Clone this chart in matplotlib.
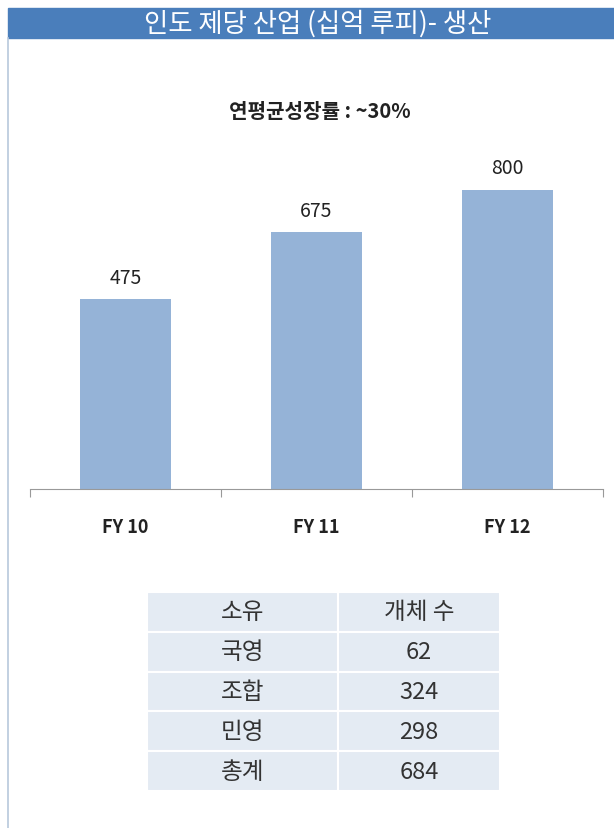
"""인도 제당 산업 (십억 루피) - 생산: 막대 + 소유 형태 표."""

import matplotlib

matplotlib.use("Agg")
import matplotlib.pyplot as plt  # noqa: E402
from matplotlib.patches import Rectangle  # noqa: E402

W, H = 614, 829
plt.rcParams["font.family"] = ["Noto Sans CJK KR", "DejaVu Sans"]

YEARS = ["FY 10", "FY 11", "FY 12"]
PRODUCTION = [475, 675, 800]

TABLE_HEADER = ["소유", "개체 수"]
OWNERSHIP = ["국영", "조합", "민영", "총계"]
UNITS = [62, 324, 298, 684]

BAR_COLOR = "#95b3d7"
BANNER_COLOR = "#4a7ebb"
CELL_COLOR = "#e4ebf3"
TEXT_DARK = "#222222"


def px(x0, y0, x1, y1):
    """пиксели (слева-сверху) -> доли фигуры [left, bottom, width, height]."""
    return [x0 / W, 1 - y1 / H, (x1 - x0) / W, (y1 - y0) / H]


fig = plt.figure(figsize=(W / 100, H / 100), dpi=100)
fig.patch.set_facecolor("white")

# banner
fig.patches.append(Rectangle((8 / W, 1 - 39 / H), 1, 30 / H,
                             transform=fig.transFigure, color=BANNER_COLOR))
fig.text(318 / W, 1 - 24 / H, "인도 제당 산업 (십억 루피)- 생산", color="white",
         fontsize=19, ha="center", va="center")
# left frame line
fig.lines.append(plt.Line2D([8 / W, 8 / W], [0, 1 - 39 / H],
                            transform=fig.transFigure, color="#b8c8dc", lw=1.2))

fig.text(320 / W, 1 - 111 / H, "연평균성장률 : ~30%", fontsize=14.5,
         fontweight="bold", ha="center", va="center", color=TEXT_DARK)

# bar chart
y_floor = -86
ax = fig.add_axes(px(30, 100, 603, 490))
xs = range(len(YEARS))
heights = [v - y_floor for v in PRODUCTION]
ax.bar(xs, heights, bottom=y_floor, width=0.48, color=BAR_COLOR)
for x, v in zip(xs, PRODUCTION):
    ax.annotate(str(v), (x, v), xytext=(0, 8), textcoords="offset points",
                ha="center", va="bottom", fontsize=14, color=TEXT_DARK)
ax.set_xlim(-0.5, len(YEARS) - 0.5)
ax.set_ylim(y_floor, y_floor + 390 / 0.338)
for s in ("top", "right", "left"):
    ax.spines[s].set_visible(False)
ax.spines["bottom"].set_color("#999999")
ax.set_yticks([])
ax.set_xticks([i - 0.5 for i in range(len(YEARS) + 1)], minor=False)
ax.set_xticklabels([])
ax.tick_params(axis="x", length=6, color="#999999", direction="out")
for x, lab in zip(xs, YEARS):
    ax.text(x, -0.095, lab, transform=ax.get_xaxis_transform(), ha="center",
            va="center", fontsize=13, fontweight="bold", color=TEXT_DARK)

# table
tax = fig.add_axes(px(147, 593, 500, 792))
tax.axis("off")
cells = [TABLE_HEADER] + [[o, str(u)] for o, u in zip(OWNERSHIP, UNITS)]
tbl = tax.table(cellText=cells, bbox=[0, 0, 1, 1], cellLoc="center",
                colWidths=[191, 162])
tbl.auto_set_font_size(False)
for (r, c), cell in tbl.get_celld().items():
    cell.set_facecolor(CELL_COLOR)
    cell.set_edgecolor("white")
    cell.set_linewidth(1.5)
    cell.get_text().set_fontsize(17)
    cell.get_text().set_color("#333333")

fig.savefig("out.png", dpi=100)
